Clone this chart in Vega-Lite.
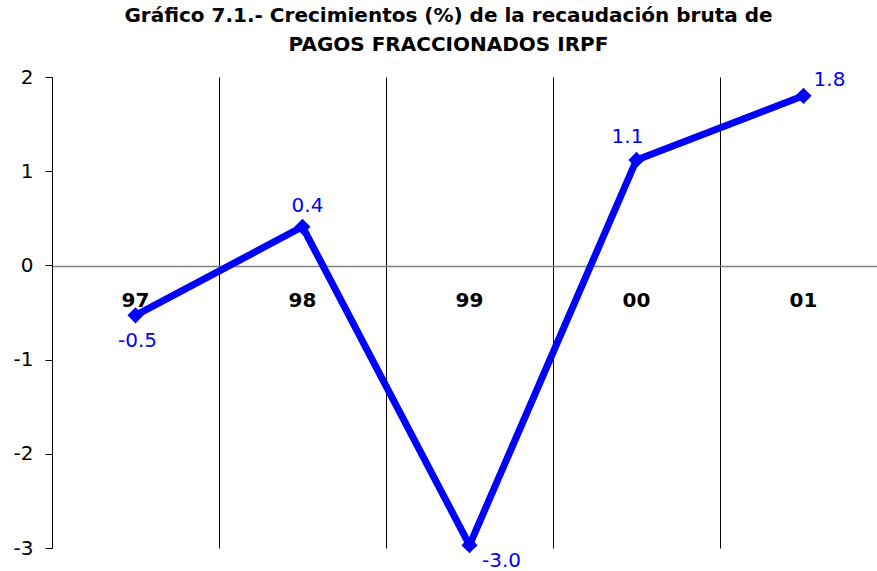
{
  "$schema": "https://vega.github.io/schema/vega-lite/v6.json",
  "autosize": "none",
  "width": 825,
  "height": 471,
  "padding": {"left": 52, "top": 77, "right": 0, "bottom": 23},
  "background": "white",
  "title": {
    "text": ["Gráfico 7.1.- Crecimientos (%) de la recaudación bruta de", "PAGOS FRACCIONADOS IRPF"],
    "font": "DejaVu Sans",
    "fontSize": 20,
    "fontWeight": "bold",
    "color": "black",
    "anchor": "middle",
    "frame": "group",
    "lineHeight": 29,
    "offset": 12,
    "dx": -16
  },
  "config": {
    "view": {"stroke": null},
    "locale": {"number": {"decimal": ".", "thousands": ",", "grouping": [3], "currency": ["$", ""], "minus": "-"}}
  },
  "data": {
    "values": [
      {"year": "97", "v": -0.53},
      {"year": "98", "v": 0.41},
      {"year": "99", "v": -2.97},
      {"year": "00", "v": 1.12},
      {"year": "01", "v": 1.80}
    ]
  },
  "encoding": {
    "x": {
      "field": "year",
      "type": "ordinal",
      "sort": null,
      "scale": {"type": "band", "range": [0, 835], "paddingInner": 0, "paddingOuter": 0},
      "axis": {
        "title": null,
        "offset": -282,
        "grid": true,
        "bandPosition": 0,
        "gridColor": "black",
        "gridWidth": 1,
        "gridOpacity": 1,
        "ticks": false,
        "domain": true,
        "domainColor": "#808080",
        "domainWidth": 1.5,
        "labelAngle": 0,
        "labelFont": "DejaVu Sans",
        "labelFontSize": 20,
        "labelFontWeight": "bold",
        "labelColor": "black",
        "labelPadding": 24
      }
    },
    "y": {
      "field": "v",
      "type": "quantitative",
      "scale": {"domain": [-3, 2], "nice": false, "zero": false},
      "axis": {
        "title": null,
        "values": [-3, -2, -1, 0, 1, 2],
        "format": "d",
        "grid": false,
        "domainColor": "black",
        "domainWidth": 1,
        "tickColor": "black",
        "tickSize": 7,
        "labelFont": "DejaVu Sans",
        "labelFontSize": 20,
        "labelColor": "black",
        "labelPadding": 12
      }
    }
  },
  "layer": [
    {"mark": {"type": "line", "color": "#0000FF", "strokeWidth": 7}},
    {"mark": {"type": "point", "shape": "diamond", "filled": true, "color": "#0000FF", "size": 260, "opacity": 1}},
    {
      "transform": [{"filter": "datum.year == '98'"}],
      "mark": {"type": "text", "color": "#0000FF", "font": "DejaVu Sans", "fontSize": 20, "dy": -21, "dx": 5},
      "encoding": {"text": {"field": "v", "type": "quantitative", "format": ".1f"}}
    },
    {
      "transform": [{"filter": "datum.year == '00'"}],
      "mark": {"type": "text", "color": "#0000FF", "font": "DejaVu Sans", "fontSize": 20, "dy": -23, "dx": -9},
      "encoding": {"text": {"field": "v", "type": "quantitative", "format": ".1f"}}
    },
    {
      "transform": [{"filter": "datum.year == '01'"}],
      "mark": {"type": "text", "color": "#0000FF", "font": "DejaVu Sans", "fontSize": 20, "dy": -16, "dx": 26},
      "encoding": {"text": {"field": "v", "type": "quantitative", "format": ".1f"}}
    },
    {
      "transform": [{"filter": "datum.year == '97'"}],
      "mark": {"type": "text", "color": "#0000FF", "font": "DejaVu Sans", "fontSize": 20, "dy": 26, "dx": 2},
      "encoding": {"text": {"field": "v", "type": "quantitative", "format": ".1f"}}
    },
    {
      "transform": [{"filter": "datum.year == '99'"}],
      "mark": {"type": "text", "color": "#0000FF", "font": "DejaVu Sans", "fontSize": 20, "dy": 16, "dx": 32},
      "encoding": {"text": {"field": "v", "type": "quantitative", "format": ".1f"}}
    }
  ]
}
